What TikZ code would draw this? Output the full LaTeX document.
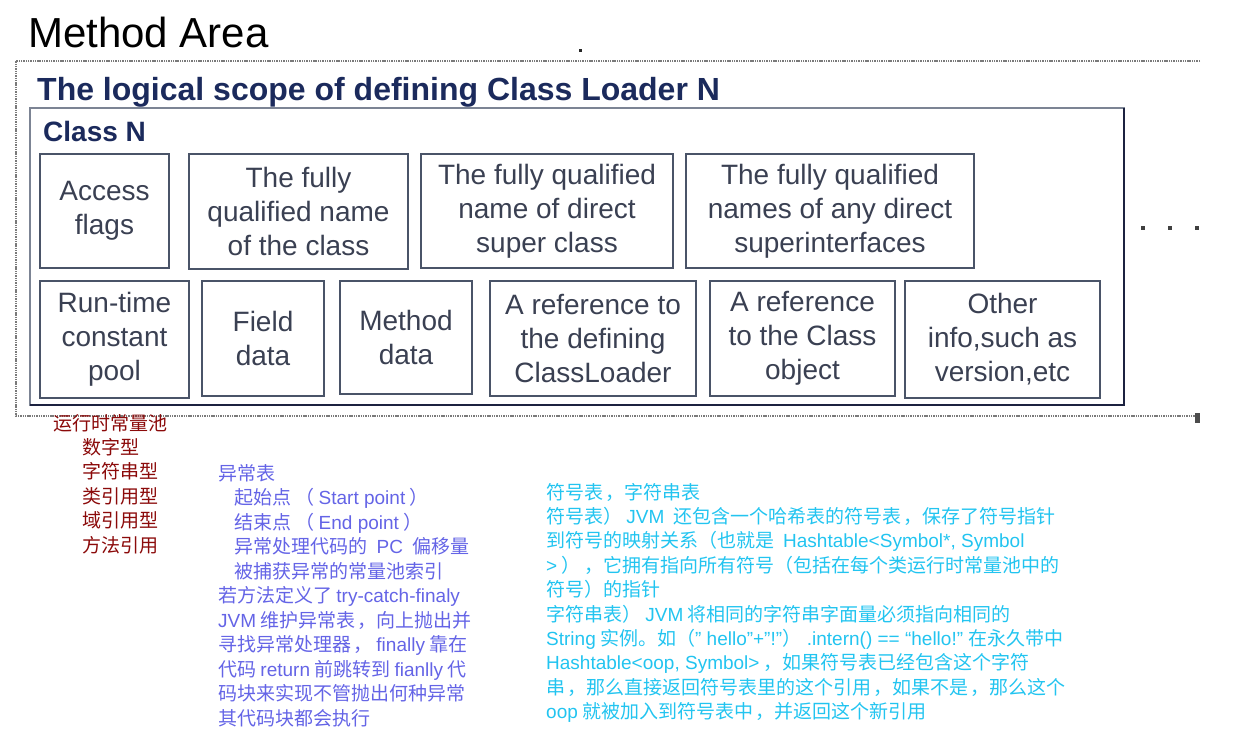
\documentclass[tikz,border=0pt]{standalone}
\usepackage{fontspec}
\setmainfont{Liberation Sans}
\newfontfamily\cjkf{Noto Sans CJK SC}
\newfontfamily\latinf{Liberation Sans}
\newcommand\lsf[1]{{\latinf #1}}
\definecolor{navyc}{HTML}{1B2A5C}
\definecolor{boxc}{HTML}{4A5468}
\definecolor{txtc}{HTML}{3A4052}
\definecolor{framegray}{HTML}{7C8494}
\definecolor{framedark}{HTML}{1C2240}
\definecolor{dotc}{HTML}{7A7A7A}
\definecolor{redc}{HTML}{8B0A0A}
\definecolor{bluec}{HTML}{6464E6}
\definecolor{cyanc}{HTML}{22C4F0}
\tikzset{
  fbox/.style={draw=boxc, line width=1.6pt, align=center, text=txtc,
    font=\fontsize{28}{34}\selectfont, inner sep=0pt},
  dotline/.style={draw=dotc, line width=1.2pt, dash pattern=on 1.4pt off 0.9pt},
  cjkline/.style={anchor=base west, inner sep=0pt, font=\cjkf\fontsize{19}{24}\selectfont},
  smalldot/.style={fill=#1, draw=none},
}
\begin{document}
\begin{tikzpicture}[x=1pt,y=-1pt]
\useasboundingbox (0,0) rectangle (1236,750);
% title
\node[anchor=base west, inner sep=0pt, font=\fontsize{42}{48}\selectfont] (ma) at (28,47) {Method Area};
% dotted outer frame
\coordinate (o1) at (16,61);
\coordinate (o2) at (1200,61);
\coordinate (o3) at (16,416);
\coordinate (o4) at (1197,416);
\draw[dotline] (o2) -- (o1) -- (o3) -- (o4);
\fill[smalldot=black!85] (578.5,48.5) rectangle (582,52);
\fill[smalldot=black!70] (1195,413) rectangle (1200,423);
% scope title
\node[anchor=base west, inner sep=0pt, text=navyc, font=\bfseries\fontsize{32}{36}\selectfont] (scope) at (37,100) {The logical scope of defining Class Loader N};
% class frame
\coordinate (c1) at (30,108);
\coordinate (c2) at (1124,108);
\coordinate (c3) at (1124,405);
\coordinate (c4) at (30,405);
\draw[framegray, line width=1.6pt] (c3) -- (c2) -- (c1) -- (c4) -- (c3);
\draw[framedark, line width=2pt] (c2) -- (c3) -- (c4);
\node[anchor=base west, inner sep=0pt, text=navyc, font=\bfseries\fontsize{28}{32}\selectfont] (cn) at (43,141) {Class N};
% row 1
\node[fbox, minimum width=129pt, minimum height=114pt] (a1) at (104.5,211) {Access\\flags};
\node[fbox, minimum width=219pt, minimum height=115pt] (a2) at (298.5,211.5) {The fully\\qualified name\\of the class};
\node[fbox, minimum width=252pt, minimum height=114pt] (a3) at (547,211) {The fully qualified\\name of direct\\super class};
\node[fbox, minimum width=288pt, minimum height=114pt] (a4) at (830,211) {The fully qualified\\names of any direct\\superinterfaces};
% row 2
\node[fbox, minimum width=149pt, minimum height=117pt] (b1) at (114.5,339.5) {Run-time\\constant\\pool};
\node[fbox, minimum width=122pt, minimum height=115pt] (b2) at (263,338.5) {Field\\data};
\node[fbox, minimum width=132pt, minimum height=113pt] (b3) at (406,337.5) {Method\\data};
\node[fbox, minimum width=206pt, minimum height=115pt] (b4) at (593,338.5) {A reference to\\the defining\\ClassLoader};
\node[fbox, minimum width=185pt, minimum height=115pt] (b5) at (802.5,338.5) {A reference\\to the Class\\object};
\node[fbox, minimum width=195pt, minimum height=117pt] (b6) at (1002.5,339.5) {Other\\info,such as\\version,etc};
% ellipsis
\foreach \dx [count=\k] in {1143,1170,1197}
  \fill[smalldot=black!75] (\dx-2,226) rectangle (\dx+2,230);
% red block
\node[cjkline, text=redc] (r0) at (53,430) {运行时常量池};
\foreach \t [count=\i] in {{数字型},{字符串型},{类引用型},{域引用型},{方法引用}}
  \node[cjkline, text=redc] (r\i) at (82,430+24.4*\i) {\t};
% blue block
\node[cjkline, text=bluec] (e0) at (218,480) {异常表};
\node[cjkline, text=bluec] (e1) at (234,504.5) {起始点 （ \lsf{Start point} ）};
\node[cjkline, text=bluec] (e2) at (234,529) {结束点 （ \lsf{End point} ）};
\node[cjkline, text=bluec] (e3) at (234,553.5) {异常处理代码的 \lsf{ PC } 偏移量};
\node[cjkline, text=bluec] (e4) at (234,578) {被捕获异常的常量池索引};
\node[cjkline, text=bluec] (e5) at (218,602.5) {若方法定义了 \lsf{try-catch-finaly}};
\node[cjkline, text=bluec] (e6) at (218,627) {\lsf{JVM} 维护异常表\hspace{2pt}，向上抛出并};
\node[cjkline, text=bluec] (e7) at (218,651.5) {寻找异常处理器\hspace{2pt}， \lsf{finally} 靠在};
\node[cjkline, text=bluec] (e8) at (218,676) {代码 \lsf{return} 前跳转到 \lsf{fianlly} 代};
\node[cjkline, text=bluec] (e9) at (218,700.5) {码块来实现不管抛出何种异常};
\node[cjkline, text=bluec] (e10) at (218,725) {其代码块都会执行};
% cyan block
\node[cjkline, text=cyanc] (s0) at (546,499) {符号表\hspace{2pt}，字符串表};
\node[cjkline, text=cyanc] (s1) at (546,523.4) {符号表） \lsf{JVM}\hspace{9pt}还包含一个哈希表的符号表\hspace{2pt}，保存了符号指针};
\node[cjkline, text=cyanc] (s2) at (546,547.8) {到符号的映射关系（也就是\hspace{9pt}\lsf{Hashtable<Symbol*, Symbol}};
\node[cjkline, text=cyanc] (s3) at (546,572.2) {\lsf{>} ）\hspace{4pt}，它拥有指向所有符号（包括在每个类运行时常量池中的};
\node[cjkline, text=cyanc] (s4) at (546,596.6) {符号）的指针};
\node[cjkline, text=cyanc] (s5) at (546,621) {字符串表） \lsf{JVM} 将相同的字符串字面量必须指向相同的};
\node[cjkline, text=cyanc] (s6) at (546,645.4) {\lsf{String} 实例。如（\lsf{” hello”+”!”}） \lsf{.intern() == “hello!”} 在永久带中};
\node[cjkline, text=cyanc] (s7) at (546,669.8) {\lsf{Hashtable<oop, Symbol>} ，如果符号表已经包含这个字符};
\node[cjkline, text=cyanc] (s8) at (546,694.2) {串\hspace{2pt}，那么直接返回符号表里的这个引用\hspace{2pt}，如果不是\hspace{2pt}，那么这个};
\node[cjkline, text=cyanc] (s9) at (546,718.6) {\lsf{oop} 就被加入到符号表中\hspace{2pt}，并返回这个新引用};
\end{tikzpicture}
\end{document}
